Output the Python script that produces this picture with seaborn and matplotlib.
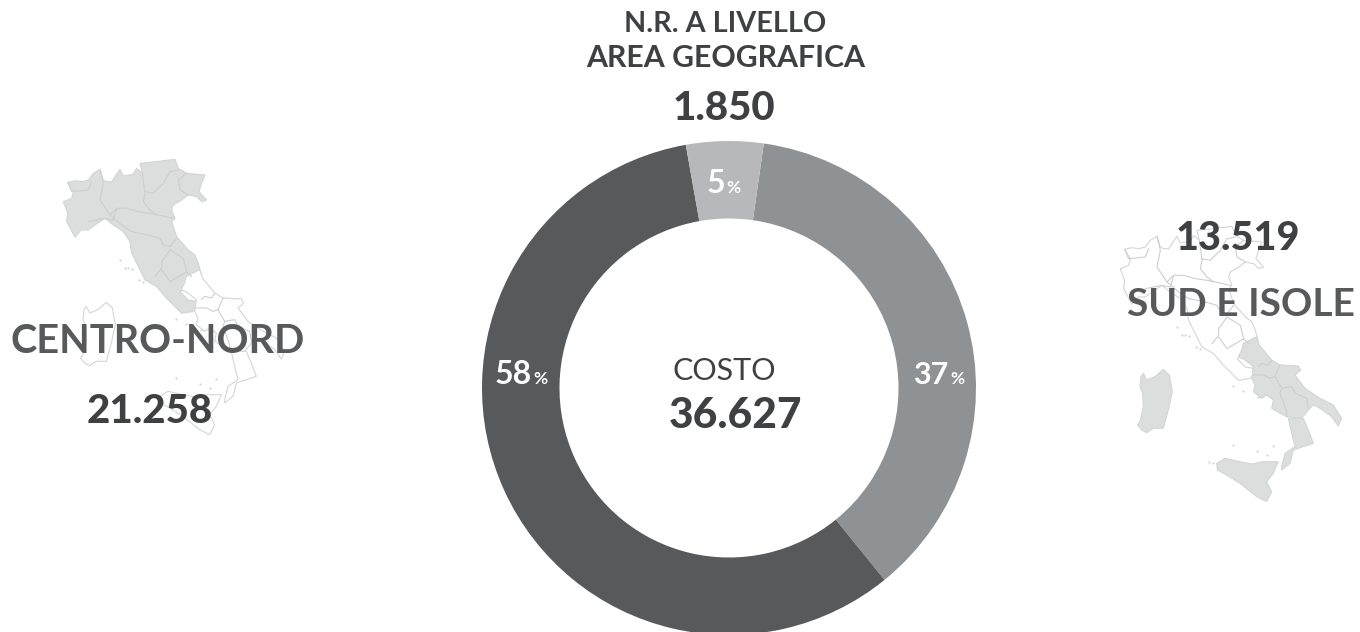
"""Costo per area geografica: ciambella con le due mappe d'Italia ai lati."""
import matplotlib

matplotlib.use("Agg")
import matplotlib.pyplot as plt
import numpy as np
import seaborn as sns
from matplotlib.patches import Polygon

W, H = 1360, 632

# valori in ordine orario, a partire dal bordo destro della fetta piu' piccola
AREAS = ["Sud e isole", "Centro-Nord", "N.R."]
COSTS = [13519, 21258, 1850]
COLORS = ["#8f9294", "#58595b", "#b7b8bb"]

# la mappa di destra e' la stessa di sinistra spostata di questo offset
RIGHT_MAP = (1057, 67)

NW = (55, 150)
CENTER = (120, 230)
SE = (1230 - RIGHT_MAP[0], 320 - RIGHT_MAP[1])
ISL = (1130 - RIGHT_MAP[0], 360 - RIGHT_MAP[1])
CAL = (1100 - RIGHT_MAP[0], 190 - RIGHT_MAP[1])


def page(points, origin):
    return [(origin[0] + x / 3, origin[1] + y / 3) for x, y in points]


NORTH = page([(60, 262), (78, 240), (100, 240), (120, 225), (150, 205), (175, 225), (205, 245),
              (225, 275), (228, 300)], NW) + \
    page([(35, 70), (60, 120), (75, 150), (110, 170), (135, 200), (160, 225), (185, 250),
          (215, 245), (240, 235), (235, 215), (205, 210), (180, 185), (200, 175), (195, 155),
          (215, 140), (243, 130), (235, 100), (225, 75), (205, 60)], CENTER) + \
    page([(365, 260), (350, 215), (360, 205), (350, 180), (355, 165), (380, 150), (400, 135),
          (425, 140), (440, 155), (455, 150), (432, 125), (440, 100), (450, 75), (395, 70),
          (370, 55), (360, 28), (300, 35), (255, 40), (262, 70), (245, 55), (235, 72),
          (205, 78), (195, 58), (185, 72), (170, 95), (155, 95), (145, 90), (135, 58),
          (115, 70), (100, 90), (80, 95), (60, 92), (38, 97), (55, 125), (50, 145), (25, 155),
          (38, 190), (35, 215)], NW)
NORTH_BORDERS = [
    page([(135, 58), (145, 100), (135, 150), (165, 195)], NW),
    page([(38, 97), (50, 125), (100, 120), (110, 95)], NW),
    page([(100, 215), (150, 205), (175, 210), (185, 175)], NW),
    page([(165, 195), (185, 175), (215, 175), (250, 185), (285, 190), (310, 195), (355, 205)], NW),
    page([(262, 70), (270, 130), (265, 155), (285, 180), (305, 195)], NW),
    page([(270, 125), (295, 130), (325, 100), (345, 65), (370, 60)], NW),
    page([(395, 70), (370, 90), (375, 120), (400, 135)], NW),
    page([(165, 195), (200, 225), (230, 245), (280, 255), (315, 265), (325, 285), (345, 290),
          (365, 265)], NW),
    page([(150, 60), (125, 95), (125, 115), (105, 140)], CENTER),
    page([(150, 60), (190, 85), (200, 125), (175, 140), (150, 155), (125, 120)], CENTER),
    page([(200, 125), (215, 140)], CENTER),
]
SOUTH = page([(40, 70), (80, 50), (88, 75), (125, 120), (150, 135), (205, 138), (212, 150),
              (195, 165), (225, 205), (270, 235), (310, 255), (335, 295), (325, 318), (305, 290),
              (270, 265), (250, 255), (235, 270), (215, 295), (170, 290), (160, 285), (125, 265),
              (130, 240), (110, 225), (95, 235), (70, 215), (75, 195), (65, 175), (70, 140),
              (45, 120), (25, 110), (35, 90)], SE)
SOUTH_BORDERS = [
    page([(70, 165), (100, 165), (120, 175), (135, 170)], SE),
    page([(85, 140), (95, 130), (115, 135), (125, 122)], SE),
    page([(150, 135), (135, 170), (155, 205), (150, 220), (170, 275), (170, 290)], SE),
    page([(155, 205), (185, 200), (195, 220), (230, 235), (235, 265)], SE),
]
CALABRIA = page([(565, 685), (610, 685), (625, 720), (640, 760), (580, 780), (570, 820),
                 (545, 840), (545, 830), (555, 790), (585, 770), (575, 730)], CAL)
SICILY = page([(260, 310), (285, 295), (330, 305), (365, 312), (400, 305), (445, 305), (430, 340),
               (410, 365), (425, 395), (410, 425), (380, 410), (330, 370), (290, 345),
               (262, 330)], ISL)
SARDINIA = page([(40, 40), (33, 50), (30, 80), (38, 100), (40, 140), (30, 185), (22, 195),
                 (35, 210), (50, 218), (70, 205), (100, 205), (115, 150), (127, 95), (118, 45),
                 (100, 28), (75, 50), (50, 60)], ISL)
SMALL_ISLANDS = page([(15, 113), (25, 115), (35, 117), (58, 150), (70, 155), (0, 90)], CENTER) + \
    page([(238, 305), (250, 310), (310, 255), (380, 272), (410, 285), (430, 258), (310, 78),
          (340, 92), (385, 112)], ISL)


def draw_shape(ax, points, shift, filled):
    xy = [(x + shift[0], H - (y + shift[1])) for x, y in points]
    ax.add_patch(Polygon(xy, closed=True, facecolor="#dcdddd" if filled else "white",
                         edgecolor="#d4d5d6", linewidth=0.8, zorder=1))


def draw_borders(ax, lines, shift):
    for line in lines:
        pts = np.array(line, dtype=float)
        ax.plot(pts[:, 0] + shift[0], H - (pts[:, 1] + shift[1]), color="#cdcecf", linewidth=0.8,
                zorder=2)


def draw_italy(ax, shift, north_filled):
    south_filled = not north_filled
    draw_shape(ax, NORTH, shift, north_filled)
    draw_borders(ax, NORTH_BORDERS, shift)
    draw_shape(ax, SOUTH, shift, south_filled)
    draw_shape(ax, CALABRIA, shift, south_filled)
    draw_borders(ax, SOUTH_BORDERS, shift)
    draw_shape(ax, SICILY, shift, south_filled)
    draw_shape(ax, SARDINIA, shift, south_filled)
    pts = np.array(SMALL_ISLANDS)
    ax.scatter(pts[:, 0] + shift[0], H - (pts[:, 1] + shift[1]), s=2.5, color="#d4d5d6",
               linewidth=0, zorder=1)


def label(ax, x, y, text, size, color="#58595b", ha="center", weight="bold"):
    ax.text(x, H - y, text, fontsize=size, color=color, ha=ha, va="baseline", weight=weight,
            zorder=5)


def main():
    sns.set_theme(style="white")
    plt.rcParams["font.family"] = ["Lato", "DejaVu Sans"]

    fig = plt.figure(figsize=(W / 100, H / 100), dpi=100, facecolor="white")
    ax = fig.add_axes([0, 0, 1, 1])

    palette = sns.color_palette(COLORS)
    ax.pie(COSTS, colors=palette, startangle=81.9, counterclock=False, radius=247,
           center=(729, H - 388), frame=True, wedgeprops={"width": 77.5, "linewidth": 0})
    ax.set_xlim(0, W)
    ax.set_ylim(0, H)
    ax.set_aspect("equal")
    ax.axis("off")

    draw_italy(ax, (0, 0), True)
    draw_italy(ax, RIGHT_MAP, False)

    label(ax, 725, 32, "N.R. A LIVELLO", 20.7, "#3f4042")
    label(ax, 726, 67, "AREA GEOGRAFICA", 21.8, "#3f4042")
    label(ax, 724, 120, "1.850", 29, "#3f4042", weight=900)
    label(ax, 724, 380, "COSTO", 22, "#3f4042", weight="normal")
    label(ax, 735, 428, "36.627", 30.5, "#3f4042", weight=900)
    label(ax, 158, 353, "CENTRO-NORD", 28.5)
    label(ax, 150, 423, "21.258", 29, "#3f4042", weight=900)
    label(ax, 1238, 250, "13.519", 28.5, "#3f4042", weight=900)
    label(ax, 1241, 316, "SUD E ISOLE", 28)

    # percentuali: numero grande e % piccolo
    label(ax, 532, 384, "58", 23, "white", ha="right")
    label(ax, 533, 384, "%", 12.5, "white", ha="left")
    label(ax, 948, 384, "37", 22, "white", ha="right")
    label(ax, 950, 384, "%", 12.5, "white", ha="left")
    label(ax, 725, 193, "5", 23, "white", ha="right")
    label(ax, 726, 193, "%", 12.5, "white", ha="left")

    fig.savefig("out.png", dpi=100)
    plt.close(fig)


if __name__ == "__main__":
    main()
